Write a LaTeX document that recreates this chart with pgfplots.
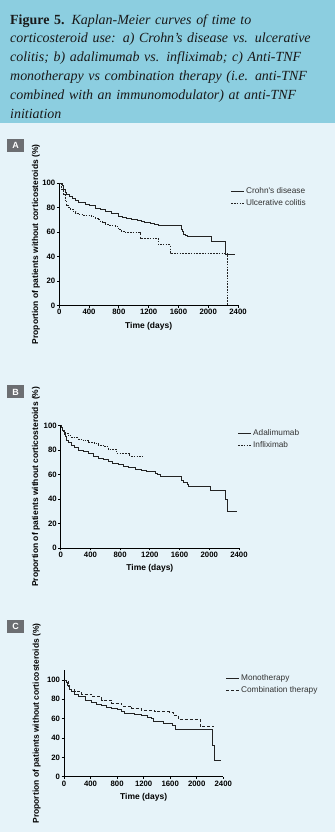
\documentclass[border=0pt]{standalone}
\usepackage{fontspec}
\usepackage{pgfplots}
\pgfplotsset{compat=1.18}
\setmainfont{Liberation Serif}
\newfontfamily\arial{Liberation Sans}
\definecolor{hdr}{RGB}{140,206,224}
\definecolor{pan}{RGB}{230,243,249}
\definecolor{lbl}{RGB}{108,110,114}
\definecolor{crv}{RGB}{35,35,35}
\pgfplotsset{km/.style={
  scale only axis, axis x line*=bottom, axis y line*=left,
  hide obscured x ticks=false, hide obscured y ticks=false,
  xmin=0, xmax=2400, ymin=0,
  xtick={0,400,...,2400}, ytick={0,20,...,100},
  tick align=outside, major tick length=2.5bp,
  axis line style={black, line width=0.8bp},
  tick style={black, line width=0.8bp},
  ticklabel style={font=\arial\bfseries\fontsize{7.8}{8}\selectfont, inner sep=1.3bp},
  /pgf/number format/assume math mode=true, /pgf/number format/1000 sep={},
  label style={font=\arial\bfseries\fontsize{8.5}{9}\selectfont, inner sep=0bp},
  xlabel={Time (days)},
  ylabel={Proportion of patients without corticosteroids (\%)},
  clip=false,
  legend style={draw=none, fill=none, font=\arial\fontsize{8.3}{9}\selectfont,
    text=black!80, anchor=north west, cells={anchor=west}, row sep=1.5bp,
    inner sep=0bp, nodes={inner sep=1.5bp}},
  legend image code/.code={\draw[##1] (0bp,0bp) -- (13bp,0bp);},
}}
\begin{document}
\begin{tikzpicture}
\path[use as bounding box] (0bp,0bp) rectangle (335bp,832bp);
\fill[pan] (0bp,0bp) rectangle (335bp,709bp);
\fill[hdr] (0bp,709bp) rectangle (335bp,832bp);
\node[anchor=north west, inner sep=0pt, text width=324bp, align=left,
  font=\fontsize{14}{19}\selectfont, text=black!90] at (10bp,818bp)
 {\textbf{Figure 5.} \textit{Kaplan-Meier curves of time to}\\
  \textit{corticosteroid use: a) Crohn’s disease vs. ulcerative}\\
  \textit{colitis; b) adalimumab vs. infliximab; c) Anti-TNF}\\
  \textit{monotherapy vs combination therapy (i.e. anti-TNF}\\
  \textit{combined with an immunomodulator) at anti-TNF}\\
  \textit{initiation}};
\foreach \L/\Y in {A/686.5, B/440, C/205.5}
  \node[fill=lbl, text=white, font=\arial\bfseries\fontsize{9}{9}\selectfont,
    minimum width=17bp, minimum height=13bp, inner sep=0pt] at (15.5bp,\Y bp) {\L};

% Panel A
\begin{axis}[km, at={(59.3bp,526.5bp)}, anchor=south west,
  width=178.7bp, height=122.5bp, ymax=100,
  xlabel style={at={(axis description cs:0.5,-0.167)}, anchor=center},
  ylabel style={at={(axis description cs:-0.108,0.5)}, anchor=south},
  legend style={at={(axis description cs:0.958,0.978)}}]
\addplot[const plot, crv, line width=0.9bp] coordinates {
(0,100) (40,98) (55,95) (76,92) (100,90.5) (140,89) (170,87.7) (220,86) (260,84.5)
(345,82.8) (400,81.5) (480,79.6) (550,78.2) (614,76.8) (700,75) (793,72.7) (850,71.8)
(900,71) (972,70) (1050,69.5) (1100,68.7) (1150,68) (1220,67) (1280,66) (1330,65)
(1635,62) (1650,60.5) (1670,58.3) (1700,57) (1727,56) (2047,52.5) (2226,42) (2360,42)};
\addlegendentry{Crohn's disease}
\addplot[const plot, crv, line width=0.9bp, dash pattern=on 1.6bp off 1.2bp] coordinates {
(0,100) (35,95) (54,90.5) (76,85) (100,82) (121,80) (150,78.5) (188,76.8) (220,75.5)
(255,74.7) (322,73.6) (434,72.5) (479,71.4) (520,70) (546,69) (580,67.5) (614,66)
(680,65.2) (748,64.6) (793,62) (830,60.5) (882,59.5) (1084,55) (1330,49.6) (1487,42.8)
(2262,0)};
\addlegendentry{Ulcerative colitis}
\end{axis}

% Panel B
\begin{axis}[km, at={(60.7bp,284bp)}, anchor=south west,
  width=178.3bp, height=122.5bp, ymax=100,
  xlabel style={at={(axis description cs:0.5,-0.163)}, anchor=center},
  ylabel style={at={(axis description cs:-0.116,0.5)}, anchor=south},
  legend style={at={(axis description cs:0.992,0.982)}}]
\addplot[const plot, crv, line width=0.9bp] coordinates {
(0,100) (13,98) (30,96) (45,93) (58,91) (81,88) (110,86) (148,84) (190,82) (238,80)
(300,78.5) (372,77.3) (440,75) (507,73.2) (570,72) (641,70.5) (700,69) (776,67.8)
(840,66.5) (910,65.6) (1000,64.5) (1090,63.1) (1150,62.5) (1269,61) (1300,60)
(1336,58.5) (1628,55) (1650,53.3) (1700,52) (1717,50.6) (2010,47.3) (2220,39.5)
(2246,29.7) (2368,29.7)};
\addlegendentry{Adalimumab}
\addplot[const plot, crv, line width=0.9bp, dash pattern=on 1.6bp off 1.2bp] coordinates {
(0,100) (13,98) (30,95) (58,93.6) (100,91.5) (150,90) (238,89) (300,87.5) (372,86)
(450,85) (507,84) (580,82.7) (641,80.5) (752,77.3) (931,75.1) (1102,75.1)};
\addlegendentry{Infliximab}
\end{axis}

% Panel C
\begin{axis}[km, at={(64bp,55.3bp)}, anchor=south west,
  width=159.3bp, height=106.4bp, ymax=110,
  xlabel style={at={(axis description cs:0.5,-0.191)}, anchor=center},
  ylabel style={at={(axis description cs:-0.146,0.5)}, anchor=south},
  legend style={at={(axis description cs:1.014,0.977)}}]
\addplot[const plot, crv, line width=0.9bp] coordinates {
(0,100) (25,99) (40,97) (55,94.8) (75,90.7) (115,87.9) (160,85) (215,82.8) (316,79.3)
(416,76.6) (490,75) (566,73.4) (640,72) (716,70.7) (800,69.5) (867,67.9) (917,65.5)
(1067,64.5) (1167,63.1) (1250,61.5) (1318,60.3) (1345,57.5) (1497,55.5) (1627,52.5)
(1672,48.5) (2230,32.5) (2260,16.5) (2365,16.5)};
\addlegendentry{Monotherapy}
\addplot[const plot, crv, line width=0.9bp, dash pattern=on 3bp off 2bp] coordinates {
(0,100) (25,99) (60,93) (85,89.7) (160,88) (265,85.2) (416,82.8) (566,79.3) (716,75.9)
(867,73.1) (1017,70.7) (1167,69) (1368,67.2) (1593,66.6) (1643,63.8) (1718,59.3)
(2050,51.5) (2260,51.5)};
\addlegendentry{Combination therapy}
\end{axis}
\end{tikzpicture}
\end{document}
